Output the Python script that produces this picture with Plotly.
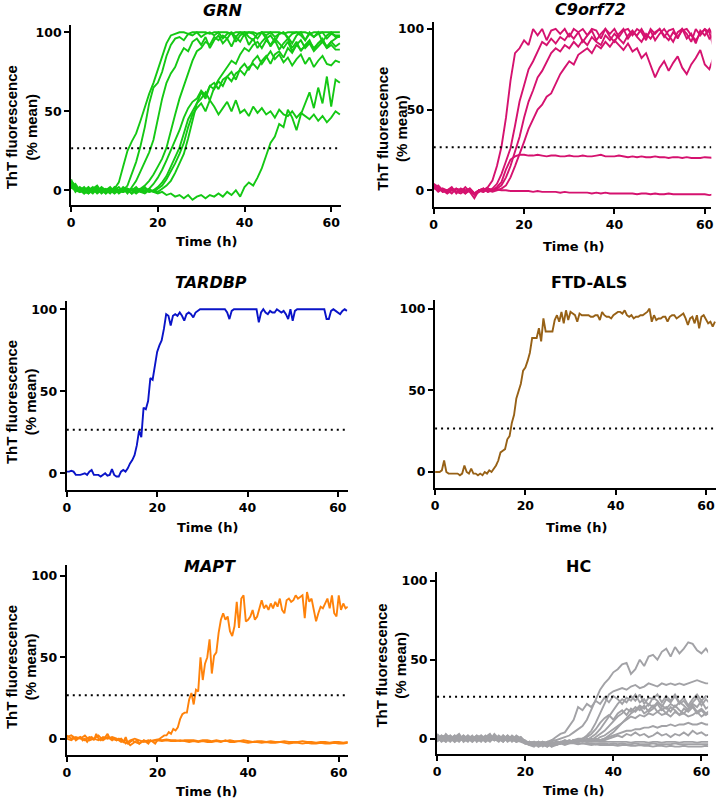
import plotly.graph_objects as go

# Figure fills the whole 720x802 window (page margin removed in the written HTML)
PAGE_OFFSET = 0
WIN_W, WIN_H = 720, 802
W, H = WIN_W - PAGE_OFFSET, WIN_H - PAGE_OFFSET

THRESHOLD = 26.6
X_TICKS = [0, 20, 40, 60]
Y_TICKS = [0, 50, 100]
Y_TITLE = "ThT fluorescence<br>(% mean)"
X_TITLE = "Time (h)"
HOURLY = 1.0
HALF = 0.5

# ---------------- GRN (hourly) ----------------
grn_1 = [3, 1, -1, 0, 2, -1, 0, 1, -2, 0,
         1, 5, 15, 25, 31, 36, 44, 53, 61, 68,
         76, 84, 93, 98, 99, 100, 100, 99, 100, 100,
         100, 100, 99, 100, 100, 100, 100, 99, 100, 100,
         100, 100, 100, 99, 100, 100, 100, 100, 100, 99,
         100, 100, 100, 100, 100, 99, 100, 100, 100, 100,
         100, 100, 100]
grn_2 = [5, 2, 0, -2, 1, 0, -1, 2, 0, -1,
         1, -2, 0, 3, 10, 18, 28, 40, 55, 65,
         68, 75, 85, 92, 96, 97, 95, 99, 98, 100,
         97, 99, 100, 98, 100, 96, 99, 100, 97, 100,
         98, 100, 99, 96, 100, 98, 100, 97, 99, 100,
         96, 99, 100, 98, 95, 100, 97, 99, 100, 96,
         99, 98, 98]
grn_3 = [7, 0, 1, -1, -2, 1, 3, -1, 0, 2,
         -1, 0, 1, -2, 2, 6, 12, 18, 24, 32,
         45, 58, 68, 74, 78, 85, 90, 88, 94, 96,
         92, 97, 90, 95, 98, 93, 96, 91, 97, 94,
         99, 92, 96, 90, 94, 97, 91, 95, 89, 93,
         96, 90, 94, 88, 92, 95, 89, 93, 96, 90,
         94, 91, 93]
grn_4 = [4, -1, 2, 0, -1, 1, -2, 0, 1, -1,
         2, 0, -1, 1, -2, 0, 1, 3, 6, 10,
         15, 20, 27, 38, 48, 58, 66, 75, 82, 88,
         90, 94, 92, 97, 95, 98, 96, 100, 94, 98,
         100, 97, 95, 99, 100, 96, 98, 94, 99, 100,
         97, 93, 98, 100, 95, 99, 97, 100, 94, 98,
         100, 97, 97]
grn_5 = [6, 3, -1, 1, 0, -2, 1, 0, -1, 1,
         0, -1, 2, 0, -2, 1, 0, -1, 1, 4,
         8, 13, 19, 25, 31, 38, 46, 52, 56, 58,
         63, 60, 66, 68, 64, 70, 72, 69, 74, 76,
         73, 78, 80, 77, 82, 85, 80, 86, 88, 84,
         90, 87, 92, 89, 91, 94, 90, 93, 95, 91,
         94, 96, 98]
grn_6 = [2, 0, 1, -2, 0, 2, -1, 0, -2, 1,
         0, 2, -1, 0, 1, -1, 0, 2, -1, 0,
         2, 5, 9, 15, 21, 27, 36, 45, 50, 55,
         58, 62, 57, 65, 70, 74, 78, 82, 80, 86,
         90, 88, 92, 94, 90, 95, 92, 96, 93, 90,
         94, 88, 92, 95, 90, 93, 88, 91, 94, 90,
         92, 89, 89]
grn_7 = [5, 1, 0, 2, -1, 0, 1, -2, 0, 1,
         -1, 0, 1, -1, 0, 2, -1, 0, 1, -1,
         1, 3, 7, 12, 17, 23, 30, 40, 48, 52,
         55, 50, 57, 53, 48, 52, 56, 50, 57, 49,
         51, 47, 53, 49, 52, 48, 50, 46, 51, 48,
         47, 50, 46, 49, 47, 45, 48, 44, 47, 43,
         46, 50, 48]
grn_8 = [1, 4, 0, -1, 1, 0, 2, -1, 0, -2,
         1, 0, -1, 1, 0, -2, 0, 1, -1, 0,
         -1, 1, 3, 6, 11, 17, 23, 33, 45, 55,
         62, 58, 66, 64, 69, 66, 72, 75, 70, 77,
         80, 76, 82, 85, 80, 84, 88, 83, 86, 81,
         84, 79, 83, 86, 80, 84, 78, 82, 85, 80,
         79, 82, 81]
grn_9 = [2, 0, -1, 1, -2, 0, -1, 1, -1, 0,
         -2, 0, -1, 1, -2, 0, -1, -2, 0, -1,
         -2, -1, -3, -2, -4, -3, -5, -3, -6, -4,
         -3, -5, -3, -4, -2, -4, -1, -3, 0, -4,
         2, 5, 3, 8, 14, 22, 30, 34, 42, 40,
         51, 46, 38, 48, 55, 62, 52, 65, 55, 72,
         53, 70, 68]

# ---------------- C9orf72 (hourly) ----------------
c9_1 = [3, 1, 0, -1, 1, -1, 0, -2, 0, -3,
        -1, 0, 2, 6, 15, 27, 45, 68, 85, 88,
        93, 90, 100, 96, 100, 93, 99, 100, 97, 100,
        95, 100, 98, 100, 96, 100, 99, 94, 100, 97,
        100, 95, 99, 100, 96, 100, 98, 93, 100, 97,
        100, 95, 99, 100, 94, 100, 97, 92, 100, 96,
        100, 94, 97]
c9_2 = [4, 2, -1, 0, 2, -2, 1, 0, -1, -2,
        0, 1, -1, 1, 4, 10, 18, 26, 40, 55,
        65, 75, 80, 86, 92, 90, 94, 91, 95, 93,
        97, 94, 98, 92, 96, 99, 93, 97, 100, 95,
        92, 97, 100, 94, 98, 96, 100, 95, 99, 93,
        97, 100, 96, 92, 98, 100, 94, 97, 91, 99,
        96, 100, 95]
c9_3 = [1, 3, 0, -2, 0, 1, -1, 2, -1, -5,
        0, -1, 1, 0, 1, 3, 8, 15, 24, 33,
        45, 55, 62, 70, 74, 80, 85, 88, 86, 90,
        88, 92, 89, 93, 90, 95, 92, 90, 96, 93,
        97, 94, 91, 96, 99, 95, 92, 97, 94, 98,
        100, 96, 93, 98, 95, 99, 100, 96, 93, 97,
        100, 98, 88]
c9_4 = [2, 0, 1, -1, 0, -1, 1, -2, 1, -2,
        -1, 1, 0, -1, 0, 1, 3, 8, 15, 22,
        30, 38, 44, 50, 53, 58, 60, 66, 72, 76,
        80, 78, 84, 86, 88, 85, 90, 88, 92, 89,
        93, 90, 87, 91, 86, 88, 82, 85, 78, 70,
        76, 80, 74, 79, 83, 76, 72, 78, 82, 87,
        78, 75, 83]
c9_5 = [2, -1, 1, 0, -2, 1, 0, -1, 1, -2,
        0, -1, 1, 0, 2, 5, 13, 19, 21, 22,
        22, 21.5, 21.5, 22, 21.5, 21, 21.5, 21.5, 21, 21,
        21.5, 21, 21, 21.5, 21, 21, 21.5, 22, 21, 21,
        21, 21.5, 21, 20.5, 21, 20.5, 21, 20.5, 20.5, 21,
        20.5, 20.5, 20, 20.5, 20.5, 20, 20.5, 20, 20, 20,
        20.5, 20, 20]
c9_6 = [1, 2, -1, 0, 1, -1, -2, 0, 1, -2,
        0, 1, -1, 0, 0.5, 0, 0, -0.5, -0.5, -0.5,
        -0.5, -0.5, -1, -0.5, -1, -1, -1, -1, -1.5, -1,
        -1.5, -1.5, -1.5, -1.5, -1.5, -2, -1.5, -2, -1.5, -2,
        -2, -2, -2, -2, -2, -2.5, -2, -2, -2.5, -2,
        -2.5, -2.5, -2, -2.5, -2.5, -2.5, -2.5, -2.5, -2.5, -2.5,
        -2.5, -3, -2.5]

# ---------------- TARDBP (half-hourly) ----------------
tardbp = [1, 1, 1.5, 1, -1, -1, -1, -0.5, 0, -1,
          1, 2, -1, -1, -1, -2, -1, 0, -1.5, -1,
          2.5, -1, -2, -2, 1, 2, 1, 3, 6, 8,
          11, 17, 26, 22, 40, 39, 44, 58, 57, 67,
          74, 78, 81, 88, 97, 96, 90, 96, 97, 96,
          98, 96, 93, 97, 98, 97, 95, 98, 99, 100,
          100, 100, 100, 100, 100, 100, 100, 100, 100, 100,
          100, 98, 94, 99, 100, 100, 100, 100, 100, 100,
          100, 100, 100, 100, 100, 92, 98, 100, 98, 97,
          99, 98, 98, 100, 99, 98, 99, 97, 94, 100,
          93, 99, 100, 100, 100, 100, 100, 100, 100, 100,
          100, 100, 100, 100, 100, 94, 94, 99, 100, 99,
          98, 97, 99, 100, 99]

# ---------------- FTD-ALS (half-hourly) ----------------
ftd_als = [0, 0, 0, 1, 7, 0, -1, -1, -1, -1,
           -1, -2, -1, 4, 0, -1, 2, -1, -1, -2,
           -1, -2, 0, -1, 1, 0, 2, 4, 7, 12,
           13, 14, 20, 22, 30, 35, 45, 50, 54, 62,
           64, 68, 73, 82, 82, 82, 88, 80, 94, 86,
           86, 86, 86, 93, 96, 92, 98, 91, 99, 93,
           98, 97, 96, 92, 97, 96, 96, 96, 96, 95,
           95, 96, 96, 93, 98, 96, 95, 95, 94, 96,
           97, 98, 98, 97, 99, 96, 95, 96, 94, 95,
           95, 96, 96, 97, 98, 100, 92, 96, 93, 94,
           94, 95, 95, 92, 95, 96, 96, 94, 95, 96,
           97, 94, 90, 94, 95, 91, 96, 88, 95, 96,
           93, 91, 92, 89, 92]

# ---------------- MAPT ----------------
mapt_1 = [2, 1, 0, 1, -1, 0, 1, -1, 0, -2,
          0, 1, -1, 3, 0, -1, 0, 1, 3, 0,
          -1, 0, -1, 0, -1, -2, 1, -3, -2, -1,
          -2, -1, -3, -2, -1, -2, -3, -1, -2, -3,
          -1, 0, 1, 2, 2, 4, 3, 6, 5, 7,
          12, 15, 16, 16, 24, 28, 21, 30, 29, 50,
          36, 46, 50, 61, 40, 51, 53, 65, 73, 77,
          73, 75, 66, 63, 69, 84, 68, 86, 88, 72,
          73, 75, 79, 73, 75, 80, 85, 80, 82, 79,
          83, 80, 84, 81, 86, 79, 77, 85, 86, 84,
          85, 88, 86, 87, 88, 74, 90, 84, 86, 79,
          72, 77, 81, 80, 83, 86, 80, 88, 77, 75,
          88, 79, 83, 80, 81]
mapt_2 = [1, 2, 0, 1, -1, 1, 0, 2, -1, 1,
          0, -1, 0, -3, -1, 0, -1, -2, -1, -1.5,
          -1, -1.5, -1, -1.5, -1.5, -1, -1.5, -2, -1.5, -2,
          -1.5, -2, -2, -1.5, -2, -1, -2, -2, -1.5, -2,
          -2.5, -2, -2, -2.5, -2, -2.5, -2.5, -2, -2.5, -3,
          -2.5, -2.5, -3, -2.5, -3, -3, -2.5, -3, -3, -2.5,
          -3, -3, -2.5]
mapt_3 = [0, -1, 1, 0, 2, -1, 0, -1, 1, 0,
          1, 0, -2, -1, -4, -2, -3, -1, -2, -1,
          -0.5, -1, -0.5, -1, -1, -1.5, -1, -1, -1, -1.5,
          -1, -1, -1.5, -1, -1.5, -1.5, -1, -1.5, -1.5, -1,
          -1.5, -2, -1.5, -1.5, -2, -1.5, -2, -2, -1.5, -2,
          -2, -2, -1.5, -2, -2, -2.5, -2, -2, -2.5, -2,
          -2, -2.5, -2]

# ---------------- HC (hourly) ----------------
hc_1 = [2, -1, 3, 0, -2, 1, -1, 2, 0, -1,
        1, -2, 0, 1, -1, 2, -1, 0, -2, -1,
        -3, -2, -4, -3, -2, -4, -1, -1, 0, 1,
        2, 4, 6, 8, 12, 18, 25, 31, 35, 38,
        42, 44, 47, 48, 41, 44, 50, 46, 52, 53,
        50, 55, 57, 52, 58, 54, 57, 61, 60, 56,
        54, 57, 53]
hc_2 = [-1, 2, 0, -2, 1, 3, -1, 0, 2, -2,
        0, 1, -1, 3, 0, -2, 1, -1, 0, 1,
        -2, -4, -3, -5, -2, -3, -4, -2, -3, -1,
        -2, -1, 0, 0, 2, 5, 10, 16, 22, 28,
        30, 31, 32, 31, 33, 34, 32, 33, 35, 34,
        33, 35, 34, 35, 34, 35, 34, 35, 36, 37,
        36, 35, 35]
hc_3 = [3, 0, -2, 1, -1, 0, 2, -1, 1, 0,
        -2, 1, 0, -1, 2, 0, -1, 1, -2, 0,
        -1, -3, -2, -4, -3, -2, -1, 1, 3, 4,
        8, 12, 20, 18, 22, 20, 24, 22, 26, 23,
        27, 25, 22, 26, 24, 28, 23, 25, 21, 26,
        24, 20, 25, 23, 27, 22, 24, 20, 23, 26,
        21, 25, 22]
hc_4 = [0, 2, 1, -1, 0, -2, 1, 0, -1, 2,
        1, -1, 0, 2, -1, 0, 1, -2, 0, -1,
        -2, -3, -4, -2, -5, -3, -2, -4, -3, -2,
        -1, -2, -1, 0, -1, 1, 3, 6, 10, 14,
        18, 22, 25, 23, 27, 24, 28, 22, 26, 25,
        28, 23, 27, 24, 28, 23, 26, 21, 25, 28,
        24, 27, 26]
hc_5 = [1, -1, 0, 2, -2, 0, 1, -1, 0, 1,
        -1, 0, 2, -1, 0, 1, -2, 0, 1, -1,
        -3, -2, -3, -5, -4, -3, -4, -2, -3, -2,
        -2, -1, -2, -1, 0, -1, 1, 3, 5, 8,
        11, 14, 16, 19, 17, 20, 18, 21, 17, 19,
        22, 18, 20, 17, 21, 18, 16, 19, 21, 17,
        19, 16, 18]
hc_6 = [-2, 1, 0, -1, 2, 0, -1, 1, -2, 0,
        2, -1, 1, 0, -2, 1, 0, -1, 2, 0,
        -2, -3, -2, -4, -3, -5, -3, -4, -2, -3,
        -2, -2, -1, -2, -1, 0, -1, 1, 2, 4,
        6, 8, 10, 12, 14, 13, 15, 14, 16, 15,
        17, 15, 16, 14, 17, 15, 16, 14, 15, 17,
        14, 16, 15]
hc_7 = [0, -1, 1, 2, 0, -1, 0, 2, -1, 1,
        0, 2, -1, 0, 1, -1, 2, 0, -1, 0,
        -3, -2, -4, -3, -2, -3, -5, -3, -2, -3,
        -1, -2, -2, -1, -2, -1, 0, -1, 0, 2,
        4, 7, 10, 13, 16, 18, 21, 19, 22, 20,
        23, 21, 19, 22, 20, 23, 21, 18, 22, 20,
        24, 19, 21]
hc_8 = [2, 0, -1, 1, 0, 2, -2, 0, 1, -1,
        0, -2, 1, 0, -1, 2, 0, 1, -1, 0,
        -2, -3, -2, -3, -4, -2, -3, -3, -2, -2,
        -2, -1, -2, -1, -1, -1, 0, -1, 0, 1,
        2, 3, 4, 5, 5, 6, 6, 7, 7, 8,
        7, 8, 8, 9, 8, 9, 9, 10, 9, 9,
        10, 9, 9]
hc_9 = [-1, 1, 2, 0, -1, 1, 0, -2, 1, 0,
        -1, 1, 3, -1, 0, -1, 1, 0, -2, 1,
        -2, -3, -4, -3, -2, -4, -3, -2, -3, -2,
        -2, -1, -2, -1, -2, -1, -1, -1, -1, 0,
        1, 2, 1, 3, 2, 4, 2, 3, 1, 2,
        4, 2, 3, 1, 3, 2, 4, 2, 5, 3,
        4, 2, 3]
hc_10 = [1, 0, -2, 1, 0, -1, 2, 0, -1, 0,
         1, 0, -1, 2, 0, -1, 0, 1, -1, -2,
         -3, -2, -3, -4, -3, -3, -2, -3, -2, -2,
         -2, -2, -2, -1.5, -2, -2, -2, -2, -2, -2,
         -2, -2, -2, -2, -2.5, -2, -2, -2, -2.5, -2,
         -2, -2.5, -2, -2, -2, -2.5, -2, -2, -2, -2.5,
         -2, -2, -2]
hc_11 = [0, 1, -1, 0, 2, -1, 1, 0, -2, 1,
         -1, 0, 2, -1, 1, 0, -1, 2, 0, -1,
         -2, -4, -3, -2, -4, -5, -3, -4, -3, -3,
         -3, -2.5, -3, -3, -3, -3, -3.5, -3, -3, -3.5,
         -3, -3.5, -3, -3.5, -3.5, -3, -3.5, -3.5, -3.5, -3,
         -3.5, -3.5, -3.5, -3.5, -3, -3.5, -3.5, -3.5, -3.5, -3.5,
         -3.5, -3.5, -3.5]
hc_12 = [1, -2, 0, 1, -1, 0, 1, -1, 0, 2,
         -1, 0, -1, 1, 0, -2, 1, 0, -1, 0,
         -3, -4, -5, -3, -4, -3, -5, -4, -3, -4,
         -3, -3, -3.5, -3, -3.5, -4, -3.5, -4, -4, -4,
         -4, -4.5, -4, -4, -4.5, -4.5, -4, -4.5, -4.5, -5,
         -4.5, -4.5, -5, -4.5, -5, -5, -4.5, -5, -5, -5,
         -5, -4.5, -5]
hc_13 = [-1, 0, 2, -1, 1, 0, -1, 1, 0, -1,
         2, 0, -2, 1, -1, 0, 2, -1, 0, -1,
         -2, -4, -3, -2, -3, -4, -2, -3, -2, -1,
         -2, -1, -1, 0, 1, 3, 6, 10, 13, 15,
         12, 16, 18, 15, 19, 17, 20, 16, 18, 21,
         17, 19, 16, 20, 18, 15, 19, 17, 20, 16,
         18, 15, 17]

# ---------------- panel configuration (layout only, window pixels) ----------------
panels = [
    dict(title="<b><i>GRN</i></b>", color="#14C814",
         series=[(grn_1, HOURLY), (grn_2, HOURLY), (grn_3, HOURLY), (grn_4, HOURLY), (grn_5, HOURLY),
                 (grn_6, HOURLY), (grn_7, HOURLY), (grn_8, HOURLY), (grn_9, HOURLY)],
         xpx=(67.7, 340), ypx=(25, 205), xr=62.3, yr=(-9.3, 104.6),
         tpos=(220, 10), xtpos=(204, 242), ytpos=(18.5, 127)),
    dict(title="<b><i>C9orf72</i></b>", color="#D5126F",
         series=[(c9_1, HOURLY), (c9_2, HOURLY), (c9_3, HOURLY), (c9_4, HOURLY), (c9_5, HOURLY), (c9_6, HOURLY)],
         xpx=(433.3, 713.3), ypx=(21.7, 206.7), xr=61.45, yr=(-10.2, 104.5),
         tpos=(591, 9.5), xtpos=(574, 246.5), ytpos=(391, 129)),
    dict(title="<b><i>TARDBP</i></b>", color="#0A14C8",
         series=[(tardbp, HALF)],
         xpx=(63.3, 346.7), ypx=(300.7, 490), xr=62.2, yr=(-10.2, 105.2),
         tpos=(209, 283), xtpos=(205, 527), ytpos=(17.5, 401.7)),
    dict(title="<b>FTD-ALS</b>", color="#976116",
         series=[(ftd_als, HALF)],
         xpx=(434.7, 718.3), ypx=(300, 488.3), xr=62.3, yr=(-10, 105.3),
         tpos=(590, 283), xtpos=(577, 527), ytpos=None),
    dict(title="<b><i>MAPT</i></b>", color="#FF820A",
         series=[(mapt_2, HOURLY), (mapt_3, HOURLY), (mapt_1, HALF)],
         xpx=(63.3, 346.7), ypx=(565, 755.3), xr=62.0, yr=(-10.2, 106.6),
         tpos=(208, 566), xtpos=(204, 791), ytpos=(17.5, 666.7)),
    dict(title="<b>HC</b>", color="#A2A2A6",
         series=[(hc_12, HOURLY), (hc_11, HOURLY), (hc_10, HOURLY), (hc_9, HOURLY), (hc_8, HOURLY),
                 (hc_6, HOURLY), (hc_13, HOURLY), (hc_5, HOURLY), (hc_7, HOURLY), (hc_4, HOURLY),
                 (hc_3, HOURLY), (hc_2, HOURLY), (hc_1, HOURLY)],
         xpx=(436.7, 710), ypx=(571.7, 754), xr=61.5, yr=(-9.7, 105.7),
         tpos=(579, 566), xtpos=(574, 790), ytpos=(391, 665.8)),
]


def fx(px):
    return (px - PAGE_OFFSET) / W


def fy(py):
    return 1 - (py - PAGE_OFFSET) / H


FONT = "DejaVu Sans"
YFONT = "Liberation Sans, Arial, sans-serif"

fig = go.Figure()
annotations = []
shapes = []
layout_axes = {}

for i, p in enumerate(panels, start=1):
    xref = "x" if i == 1 else f"x{i}"
    yref = "y" if i == 1 else f"y{i}"
    for vals, step in p["series"]:
        xs = [k * step for k in range(len(vals))]
        fig.add_trace(go.Scatter(x=xs, y=vals, mode="lines", xaxis=xref, yaxis=yref,
                                 line=dict(color=p["color"], width=1.9),
                                 showlegend=False, hoverinfo="skip"))
    common = dict(showline=True, linecolor="black", linewidth=2, ticks="outside",
                  ticklen=5, tickwidth=2, tickcolor="black", showgrid=False, zeroline=False,
                  tickfont=dict(family=FONT, size=12.5, color="black", weight="bold"))
    layout_axes["xaxis" if i == 1 else f"xaxis{i}"] = dict(
        common, domain=[fx(p["xpx"][0]), fx(p["xpx"][1])], range=[0, p["xr"]],
        tickvals=X_TICKS, anchor=yref)
    layout_axes["yaxis" if i == 1 else f"yaxis{i}"] = dict(
        common, domain=[fy(p["ypx"][1]), fy(p["ypx"][0])], range=list(p["yr"]),
        tickvals=Y_TICKS, anchor=xref)
    shapes.append(dict(type="line", xref=xref, yref=yref, x0=0, x1=p["xr"],
                       y0=THRESHOLD, y1=THRESHOLD,
                       line=dict(color="black", width=2, dash="2px,4px")))
    annotations.append(dict(text=p["title"], xref="paper", yref="paper",
                            x=fx(p["tpos"][0]), y=fy(p["tpos"][1]),
                            xanchor="center", yanchor="middle", showarrow=False,
                            font=dict(family=FONT, size=16, color="black")))
    annotations.append(dict(text="<b>" + X_TITLE + "</b>", xref="paper", yref="paper",
                            x=fx(p["xtpos"][0]), y=fy(p["xtpos"][1]),
                            xanchor="center", yanchor="middle", showarrow=False,
                            font=dict(family=FONT, size=13, color="black")))
    if p["ytpos"] is not None:
        annotations.append(dict(text="<b>" + Y_TITLE + "</b>", xref="paper", yref="paper",
                                x=fx(p["ytpos"][0]), y=fy(p["ytpos"][1]),
                                xanchor="center", yanchor="middle", showarrow=False,
                                textangle=-90,
                                font=dict(family=YFONT, size=15, color="black")))

fig.update_layout(width=W, height=H, margin=dict(l=0, r=0, t=0, b=0),
                  paper_bgcolor="white", plot_bgcolor="white",
                  annotations=annotations, shapes=shapes, **layout_axes)

# remove the browser's default 8px page margin so the 720x802 figure fills the window
fig.write_html("out.html",
               config={"displayModeBar": False, "staticPlot": True},
               post_script="document.body.style.margin='0';document.body.style.overflow='hidden';")
